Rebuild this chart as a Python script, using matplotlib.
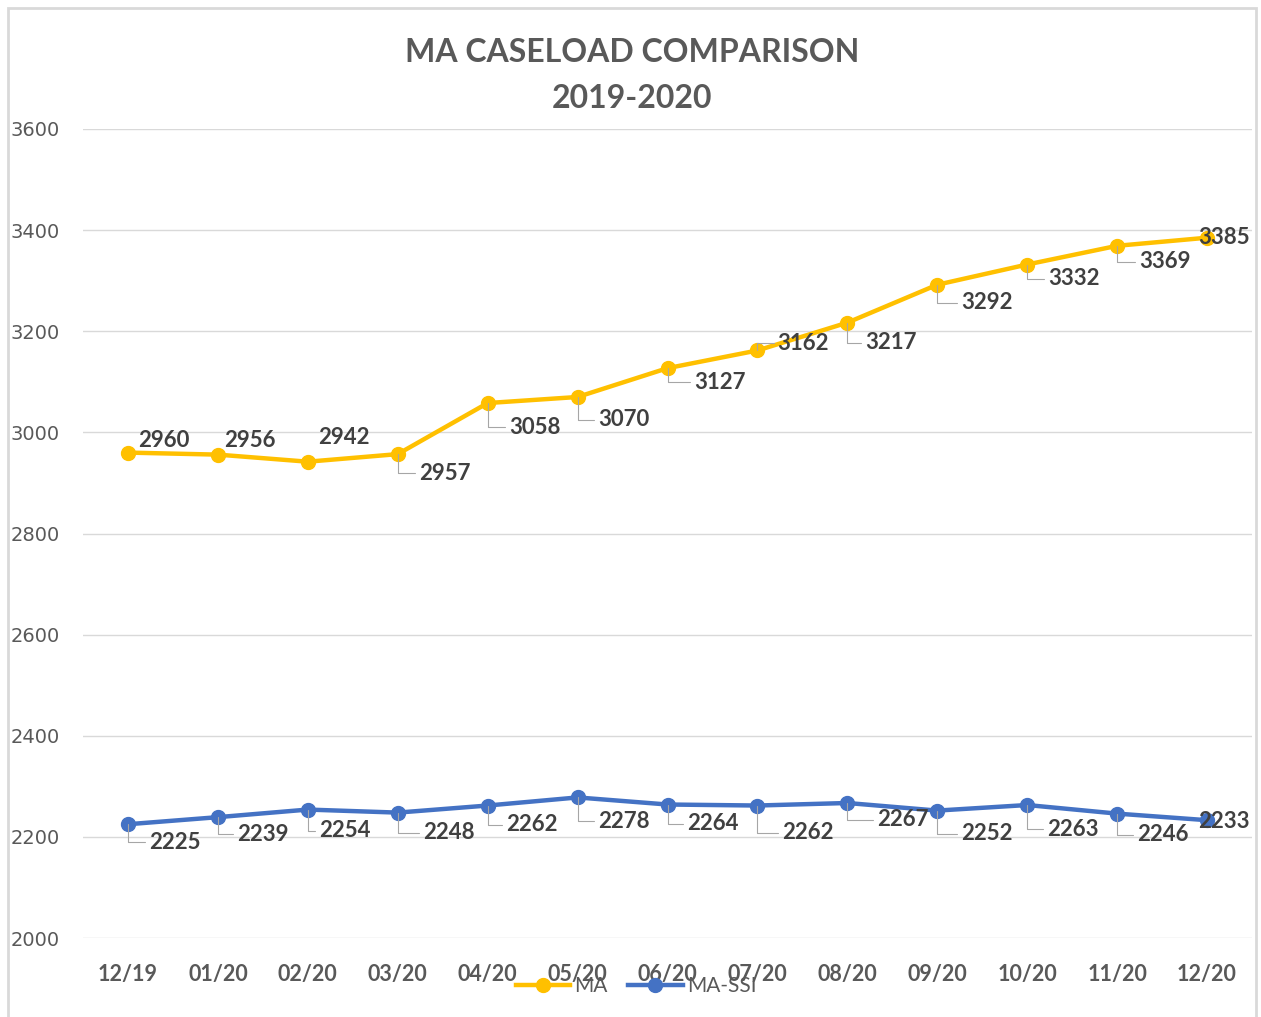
import matplotlib.pyplot as plt
import matplotlib.patches as patches

months = ["12/19", "01/20", "02/20", "03/20", "04/20", "05/20", "06/20",
          "07/20", "08/20", "09/20", "10/20", "11/20", "12/20"]
ma = [2960, 2956, 2942, 2957, 3058, 3070, 3127, 3162, 3217, 3292, 3332, 3369, 3385]
ma_ssi = [2225, 2239, 2254, 2248, 2262, 2278, 2264, 2262, 2267, 2252, 2263, 2246, 2233]

# label offsets in pixels (right, down) and whether a leader line is drawn
ma_off = [(36, -12), (32, -14), (36, -24), (47, 19), (47, 24), (46, 23), (52, 14),
          (46, -7), (44, 20), (50, 18), (47, 14), (48, 16), (17, 0)]
ma_lead = [False, False, False, True, True, True, True, True, True, True, True, True, False]
ssi_off = [(47, 18), (45, 17), (37, 21), (51, 20), (44, 19), (46, 24), (45, 19),
           (50, 27), (56, 17), (50, 23), (46, 24), (46, 21), (17, 1)]
ssi_lead = [True] * 12 + [False]

YELLOW = "#FFC000"
BLUE = "#4472C4"
GRAY = "#595959"
DARK = "#404040"

fig = plt.figure(figsize=(12.61, 10.17), dpi=100)
fig.patches.append(patches.Rectangle((8 / 1261, -0.01), 1248 / 1261, 1 - 8 / 1017 + 0.01,
                                     transform=fig.transFigure, fill=False,
                                     edgecolor="#d9d9d9", lw=2))
ax = fig.add_axes([83 / 1261, 1 - 938 / 1017, 1169 / 1261, 809 / 1017])

x = list(range(len(months)))
ax.plot(x, ma, color=YELLOW, lw=3.2, marker="o", markersize=10, label="MA", zorder=3)
ax.plot(x, ma_ssi, color=BLUE, lw=3.2, marker="o", markersize=10, label="MA-SSI", zorder=3)


def label(vals, offs, leads):
    for i, v in enumerate(vals):
        dx, dy = offs[i]
        kw = {}
        if leads[i]:
            kw["arrowprops"] = dict(arrowstyle="-", color="#a6a6a6", lw=0.8,
                                    connectionstyle="angle,angleA=0,angleB=90,rad=0",
                                    relpos=(0, 0.5), shrinkA=1, shrinkB=0)
        ax.annotate(str(v), xy=(i, v), xytext=(dx * 0.72, -dy * 0.72),
                    textcoords="offset points", ha="center", va="center",
                    fontsize=16, fontweight="bold", color=DARK, family="Lato",
                    zorder=4, **kw)


label(ma, ma_off, ma_lead)
label(ma_ssi, ssi_off, ssi_lead)

ax.set_xlim(-0.5, len(months) - 0.5)
ax.set_ylim(2000, 3600)
ax.set_yticks(range(2000, 3601, 200))
ax.set_xticks(x)
ax.set_xticklabels(months, fontsize=15.5, fontweight="bold", color=GRAY, family="Lato")
for t in ax.get_yticklabels():
    t.set_fontsize(14)
    t.set_color(GRAY)
ax.tick_params(axis="both", length=0)
ax.tick_params(axis="x", pad=19)
ax.tick_params(axis="y", pad=17)
ax.grid(axis="y", color="#d9d9d9", lw=1)
ax.set_axisbelow(True)
for s in ax.spines.values():
    s.set_visible(False)

fig.text(632 / 1261, 1 - 53 / 1017, "MA CASELOAD COMPARISON", ha="center", va="center",
         fontsize=23, fontweight="bold", color=GRAY, family="Lato")
fig.text(632 / 1261, 1 - 98 / 1017, "2019-2020", ha="center", va="center",
         fontsize=23, fontweight="bold", color=GRAY, family="Lato")

leg = ax.legend(loc="center", bbox_to_anchor=(553 / 1169, -48 / 809), ncol=2, frameon=False,
                handlelength=2.6, columnspacing=1.0, handletextpad=0.2,
                prop={"family": "Lato", "size": 15})
for t in leg.get_texts():
    t.set_color(GRAY)

fig.savefig("out.png", dpi=100)
